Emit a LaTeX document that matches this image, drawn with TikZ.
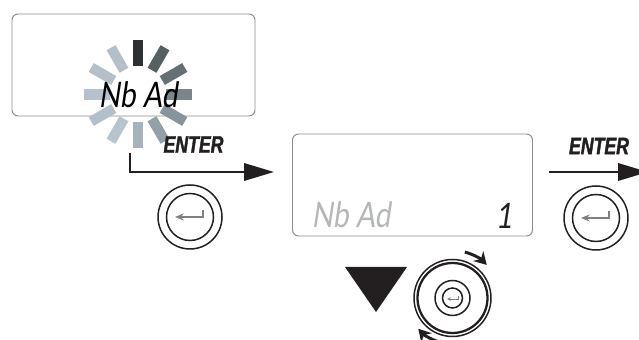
\documentclass[tikz,border=0pt]{standalone}
\usepackage{fontspec}
\usepackage{xcolor}
\usetikzlibrary{arrows.meta,positioning}
\newfontfamily\lcdfont[FakeSlant=0.15,FakeStretch=0.8]{Lato}
\newfontfamily\enterfont[FakeStretch=0.74,FakeBold=1.6]{Liberation Sans}
\definecolor{inkblack}{HTML}{231F20}
\definecolor{framegray}{HTML}{8A8C8E}
\definecolor{lcdgray}{HTML}{B4B6B8}

\begin{document}
\begin{tikzpicture}[
      x=0.02cm, y=0.02cm,
      lcdbox/.style={draw=framegray, line width=0.55pt, rounded corners=3.5pt, inner sep=0pt},
      lcdtext/.style={font=\lcdfont\fontsize{20}{20}\selectfont, inner sep=0pt},
      entertext/.style={font=\enterfont\fontsize{13.6}{13.6}\selectfont\bfseries\itshape, text=inkblack, inner sep=0pt},
      flow/.style={-{Triangle[length=17pt, width=9.8pt]}, line width=1.5pt, draw=inkblack},
      ring/.style={circle, draw=inkblack, line width=0.85pt, inner sep=0pt},
      hook/.style={-{Stealth[length=5pt, width=4pt]}, line width=0.7pt, draw=gray},
      turn/.style={-{Stealth[length=7pt, width=8pt]}, line width=1.7pt, draw=inkblack},
    ]
    \useasboundingbox (0,0) rectangle (639,-340);
    \clip (0,0) rectangle (639,-340);

    % Displays
    \node[lcdbox, minimum width=243*0.02cm, minimum height=102*0.02cm] (topbox) at (133.5,-65) {};
    \node[lcdbox, minimum width=240*0.02cm, minimum height=102*0.02cm] (midbox) at (412.5,-185) {};

    % Spinner
    \coordinate (spin) at (138,-94.5);
    \foreach \a/\c in {90/2E3133, 60/565F61, 30/667074, 0/7B868C, -30/87949B, -60/93A0A8,
                       -90/A6B3BC, -120/B7C4CC, -150/B4C0C9, 180/B5C1CC, 150/B4BFC8, 120/B4BFC8} {
      \definecolor{raycolor}{HTML}{\c}
      \draw[raycolor, line width=5.8pt] ([shift={(\a:28)}]spin) -- ([shift={(\a:54)}]spin);
    }
    \node[lcdtext, text=black] (topname) at (138,-95) {Nb Ad};

    % Lower display
    \node[lcdtext, text=lcdgray] (midname) at (351,-215) {Nb Ad};
    \node[lcdtext, text=inkblack] (midvalue) at (504,-216) {1};

    % Enter steps
    \node[entertext] (enterone) at (193.5,-144.5) {ENTER};
    \node[entertext] (entertwo) at (599,-146) {ENTER};
    \coordinate (onestart) at (130,-153);
    \coordinate (oneend) at (274,-172);
    \coordinate (twostart) at (549,-172);
    \coordinate (twoend) at (648,-172);
    \draw[flow] (onestart) |- (oneend);
    \draw[flow] (twostart) -- (twoend);

    % Enter buttons
    \foreach \n/\x/\y in {one/190/-217, two/596/-218} {
      \node[ring, minimum size=64*0.02cm] (btn\n) at (\x,\y) {};
      \node[ring, minimum size=47*0.02cm] (key\n) at (\x,\y) {};
      \coordinate (hooktop\n) at (\x+13,\y+7);
      \coordinate (hookend\n) at (\x-15,\y);
      \draw[hook] (hooktop\n) |- (hookend\n);
    }

    % Down mark
    \fill[inkblack] (345,-267) -- (407,-267) -- (376,-312) -- cycle;

    % Dial
    \node[ring, minimum size=77*0.02cm] (dialouter) at (452.5,-298) {};
    \node[ring, line width=1.3pt, minimum size=70*0.02cm] (dialmid) at (452.5,-298) {};
    \node[ring, minimum size=35*0.02cm] (dialkey) at (452.5,-298) {};
    \node[ring, minimum size=20*0.02cm] (dialcore) at (452.5,-298) {};
    \coordinate (dialhook) at (458,-296);
    \coordinate (dialhookend) at (447,-299);
    \draw[-{Stealth[length=2.2pt, width=2pt]}, line width=0.35pt, draw=gray] (dialhook) |- (dialhookend);
    \draw[turn] ([shift={(75:47.6)}]dialouter.center) arc[start angle=75, end angle=44, radius=47.6];
    \draw[turn] ([shift={(-108:46)}]dialouter.center) arc[start angle=-108, end angle=-138, radius=46];
  \end{tikzpicture}
\end{document}
